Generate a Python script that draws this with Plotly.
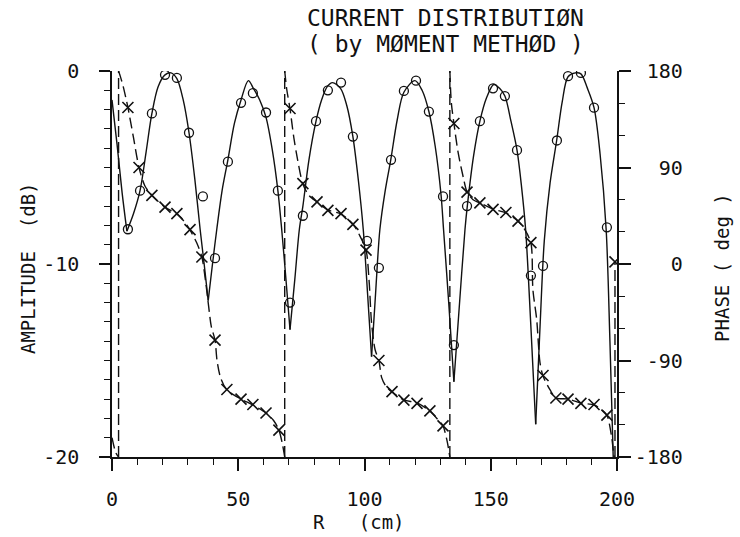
import plotly.graph_objects as go

# ---------------- data ----------------
# Amplitude curve (solid line): R [cm], amplitude [dB]
amp_curve_r = [0, 2, 4, 5.9, 8.5, 11.1, 13.5, 15.8, 18.3, 21, 23.4, 25.7, 28.2, 30.5, 32.8, 34.9, 36.5, 38.1,
               39.8, 41.5, 43.6, 45.9, 48.5, 51.1, 54, 56, 58.5, 61, 63.5, 65.7, 67.2, 68.9, 70.5,
               72.4, 74.2, 75.6, 78, 80.8, 83, 85.3, 87.3, 90.5, 93, 95.4, 97.6, 99.5, 101.2, 102.8,
               104.4, 106.1, 108.2, 110.4, 113, 115.6, 120, 122.8, 125.5, 128, 130.3, 131.3, 133.4, 135.4,
               137.6, 139.8, 140.8, 143.2, 145.7, 148.3, 151.2, 153.5, 155.6, 158, 160.4, 162.2, 163.8, 165.8, 167.8,
               169.6, 171.2, 173.5, 176.1, 178.3, 180.6, 183.5, 185.7, 188.3, 190.9, 193.3, 195.7, 197.2, 198.5]
amp_curve_db = [-1.5, -3.8, -6.3, -8.3, -7.4, -6.2, -4.2, -2.2, -0.8, -0.2, -0.1, -0.4, -1.5, -3.2, -5.6, -8.2, -10.0, -11.9,
                -10.0, -8.2, -6.2, -4.6, -2.7, -1.5, -0.5, -0.9, -1.5, -2.4, -4.1, -6.2, -8.2, -10.8, -13.4,
                -10.8, -8.2, -7.0, -4.6, -2.6, -1.5, -0.8, -0.6, -0.9, -1.8, -3.4, -5.7, -8.2, -11.5, -14.8,
                -11.5, -8.2, -6.2, -4.6, -2.5, -1.1, -0.5, -1.0, -2.1, -3.9, -6.4, -8.2, -12.1, -16.1,
                -12.1, -8.2, -6.9, -4.4, -2.6, -1.4, -0.7, -0.9, -1.3, -2.6, -4.1, -6.0, -8.2, -13.0, -18.3,
                -13.0, -8.8, -5.8, -3.6, -1.6, -0.3, -0.1, -0.15, -0.9, -1.9, -4.3, -8.2, -14.0, -20.0]

# Amplitude samples (open circles)
amp_pts_r = [6.3, 11.1, 15.8, 21.0, 25.7, 30.5, 36.0, 40.8, 45.9, 51.1, 55.8, 61.0, 65.7, 70.5, 75.6, 80.8,
             85.5, 90.7, 95.4, 101.0, 105.7, 110.5, 115.6, 120.4, 125.5, 131.1, 135.4, 140.6, 145.7, 150.9,
             155.6, 160.4, 165.9, 170.7, 176.2, 180.6, 185.7, 190.9, 196.0]
amp_pts_db = [-8.2, -6.2, -2.2, -0.2, -0.36, -3.2, -6.5, -9.7, -4.7, -1.65, -1.15, -2.15, -6.2, -12.0, -7.5, -2.6,
              -1.0, -0.6, -3.4, -8.8, -10.2, -4.6, -1.03, -0.5, -2.1, -6.5, -14.2, -7.0, -2.6, -0.9,
              -1.3, -4.1, -10.6, -10.1, -3.6, -0.27, -0.1, -1.9, -8.1]

# Phase curve (dashed line): R [cm], phase [deg]
phase_curve_r = [0, 1.5, 2.6, 2.6, 3.3, 4.5, 6.3, 8.5, 10.7, 13, 15.8, 21, 25.7, 28.5, 30.9, 33.5, 35.6, 37, 38.3,
                 39.3, 40.8, 41.6, 43, 45.5, 51.1, 55.8, 61, 64, 66.1, 67.5, 68.4, 68.4, 69.2, 70.5, 72, 73.3,
                 75.6, 78, 81.2, 85.5, 90.7, 95.4, 98, 100.6, 101.8, 102.8, 104.2, 105.7, 106.8, 108.5, 110.9,
                 115.6, 120.8, 125.9, 129, 131.1, 132.7, 133.8, 133.8, 134.4, 135.4, 137, 139.1, 140.6, 143,
                 145.7, 150.9, 156, 160.8, 163.5, 165.9, 166.7, 168.2, 169.5, 170.7, 173.5, 175.8, 180.6, 185.7,
                 190.9, 194, 196, 197.8, 199, 199.2, 199.2]
phase_curve_deg = [-162, -176, -180, 180, 175, 165, 146, 118, 90, 73, 64, 53, 46.6, 40, 31.7, 20, 6.5, -15, -40,
                   -58, -71, -90, -106, -117.5, -126, -131.5, -139, -146, -155, -168, -180, 180, 163, 144.6, 118, 100,
                   74.6, 64, 57.8, 50.4, 46.6, 37.3, 27, 13, -15, -55, -80, -90, -106, -114, -119.4,
                   -126.8, -129.6, -137.1, -145, -151.1, -165, -180, 180, 150, 131.5, 105, 81, 67.2, 60,
                   56.9, 51.3, 47.6, 40.1, 32, 19.6, -24, -52, -92, -104.4, -117.5, -124.9, -125.9, -129.6,
                   -131.5, -136, -140.8, -160, -180, -180, 2]

# Phase samples (x markers)
phase_pts_r = [6.3, 10.7, 15.8, 21.0, 25.7, 30.9, 35.6, 40.8, 45.5, 51.1, 55.8, 61.0, 66.1, 70.5, 75.6, 81.2,
               85.5, 90.7, 95.4, 100.6, 105.7, 110.9, 115.6, 120.8, 125.9, 131.1, 135.4, 140.6, 145.7, 150.9,
               156.0, 160.8, 165.9, 170.7, 175.8, 180.6, 185.7, 190.9, 196.0, 199.2]
phase_pts_deg = [146, 90, 64, 53, 47, 32, 6.5, -71, -117, -126, -131, -139, -155, 145, 75, 58,
                 50, 47, 37, 13, -90, -119, -127, -130, -137, -151, 131, 67, 57, 51,
                 48, 40, 20, -104, -125, -126, -130, -131, -141, 2]

# Axis ticks and labels
x_tick_vals = [0, 50, 100, 150, 200]
x_tick_text = ["0", "50", "100", "150", "200"]
x_minor_vals = [10, 20, 30, 40, 60, 70, 80, 90, 110, 120, 130, 140, 160, 170, 180, 190]
y_tick_vals = [-20, -10, 0]
y_tick_text = ["-20", "-10", "0"]
y_minor_vals = [-19, -18, -17, -16, -15, -14, -13, -12, -11, -9, -8, -7, -6, -5, -4, -3, -2, -1]
y2_tick_vals = [-180, -90, 0, 90, 180]
y2_tick_text = ["-180", "\u00a0-90", "\u00a0\u00a0\u00a00", "\u00a0\u00a090", "\u00a0180"]
y2_minor_vals = [-150, -120, -60, -30, 30, 60, 120, 150]

title_lines = ["CURRENT DISTRIBUTI\u00d8N", "( by M\u00d8MENT METH\u00d8D )"]
x_title = "R\u00a0\u00a0\u00a0(cm)"
y_title = "AMPLITUDE\u00a0\u00a0(dB)"
y2_title = "PHASE\u00a0(\u00a0deg\u00a0)"

FONT = "DejaVu Sans Mono"
BLACK = "#111111"

fig = go.Figure()

# ---- amplitude line: one smooth piece per lobe so nulls stay sharp ----
breaks = [0]
for i in range(1, len(amp_curve_db) - 1):
    if amp_curve_db[i] < amp_curve_db[i - 1] and amp_curve_db[i] < amp_curve_db[i + 1]:
        breaks.append(i)
breaks.append(len(amp_curve_db) - 1)
for a, b in zip(breaks[:-1], breaks[1:]):
    fig.add_trace(go.Scatter(
        x=amp_curve_r[a:b + 1], y=amp_curve_db[a:b + 1], mode="lines",
        line=dict(color=BLACK, width=1.4, shape="spline", smoothing=0.9),
        showlegend=False, hoverinfo="skip"))

# ---- phase line: smooth pieces between wraps, wraps drawn straight ----
pieces = []
start = 0
for i in range(1, len(phase_curve_deg)):
    if abs(phase_curve_deg[i] - phase_curve_deg[i - 1]) > 150:
        pieces.append((start, i - 1))
        start = i
pieces.append((start, len(phase_curve_deg) - 1))
for a, b in pieces:
    fig.add_trace(go.Scatter(
        x=phase_curve_r[a:b + 1], y=phase_curve_deg[a:b + 1], mode="lines", yaxis="y2",
        line=dict(color=BLACK, width=1.4, dash="11px,5px", shape="spline", smoothing=0.8),
        showlegend=False, hoverinfo="skip"))
wx, wy = [], []
for (a, b), (c, d) in zip(pieces[:-1], pieces[1:]):
    wx += [phase_curve_r[b], phase_curve_r[c], None]
    wy += [phase_curve_deg[b], phase_curve_deg[c], None]
fig.add_trace(go.Scatter(
    x=wx, y=wy, mode="lines", yaxis="y2",
    line=dict(color=BLACK, width=1.4, dash="11px,5px"),
    showlegend=False, hoverinfo="skip"))

# ---- markers ----
fig.add_trace(go.Scatter(
    x=amp_pts_r, y=amp_pts_db, mode="markers",
    marker=dict(symbol="circle-open", size=9, color=BLACK, line=dict(width=1.3, color=BLACK)),
    showlegend=False))
fig.add_trace(go.Scatter(
    x=phase_pts_r, y=phase_pts_deg, mode="markers", yaxis="y2",
    marker=dict(symbol="x-thin-open", size=11, color=BLACK, line=dict(width=1.6, color=BLACK)),
    showlegend=False))

tickfont = dict(family=FONT, size=20, color=BLACK)

fig.update_layout(
    width=740, height=537,
    margin=dict(l=112, r=123, t=71, b=80, autoexpand=False),
    paper_bgcolor="white", plot_bgcolor="white",
    showlegend=False,
    xaxis=dict(
        range=[0, 200], showgrid=False, zeroline=False, automargin=False,
        showline=True, linecolor=BLACK, linewidth=1.5,
        tickmode="array", tickvals=x_tick_vals, ticktext=x_tick_text,
        ticks="outside", ticklen=12, tickwidth=1.5, tickcolor=BLACK,
        minor=dict(tickmode="array", tickvals=x_minor_vals, ticks="outside", ticklen=6,
                   tickwidth=1, tickcolor=BLACK, showgrid=False),
        tickfont=tickfont, ticklabelstandoff=11,
    ),
    yaxis=dict(
        range=[-20, 0], showgrid=False, zeroline=False, automargin=False,
        showline=True, linecolor=BLACK, linewidth=1.5,
        tickmode="array", tickvals=y_tick_vals, ticktext=y_tick_text,
        ticks="outside", ticklen=11, tickwidth=1.5, tickcolor=BLACK,
        minor=dict(tickmode="array", tickvals=y_minor_vals, ticks="outside", ticklen=6,
                   tickwidth=1, tickcolor=BLACK, showgrid=False),
        tickfont=tickfont, ticklabelstandoff=16,
    ),
    yaxis2=dict(
        range=[-180, 180], overlaying="y", side="right", showgrid=False, zeroline=False,
        automargin=False,
        showline=True, linecolor=BLACK, linewidth=1.5,
        tickmode="array", tickvals=y2_tick_vals, ticktext=y2_tick_text,
        ticks="outside", ticklen=12, tickwidth=1.5, tickcolor=BLACK,
        minor=dict(tickmode="array", tickvals=y2_minor_vals, ticks="outside", ticklen=6,
                   tickwidth=1, tickcolor=BLACK, showgrid=False),
        tickfont=tickfont, ticklabelstandoff=0,
    ),
    annotations=[
        dict(text=title_lines[0], xref="paper", yref="paper", x=0.661, y=1.137,
             xanchor="center", yanchor="middle", showarrow=False,
             font=dict(family=FONT, size=23, color=BLACK)),
        dict(text=title_lines[1], xref="paper", yref="paper", x=0.661, y=1.07,
             xanchor="center", yanchor="middle", showarrow=False,
             font=dict(family=FONT, size=23, color=BLACK)),
        dict(text=x_title, xref="paper", yref="paper", x=0.49, y=-0.168,
             xanchor="center", yanchor="middle", showarrow=False,
             font=dict(family=FONT, size=19, color=BLACK)),
        dict(text=y_title, xref="paper", yref="paper", x=-0.166, y=0.49, textangle=-90,
             xanchor="center", yanchor="middle", showarrow=False,
             font=dict(family=FONT, size=19, color=BLACK)),
        dict(text=y2_title, xref="paper", yref="paper", x=1.208, y=0.49, textangle=-90,
             xanchor="center", yanchor="middle", showarrow=False,
             font=dict(family=FONT, size=19, color=BLACK)),
    ],
)

# remove the browser's default 8px page margin so the figure sits at the window origin
fig.write_html("out.html", config={"displayModeBar": False},
               post_script="document.body.style.margin='0px';")
